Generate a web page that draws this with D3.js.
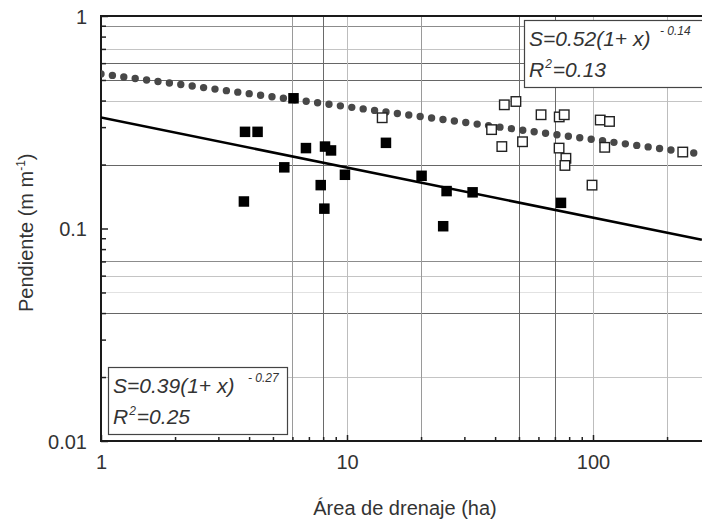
<!DOCTYPE html>
<html>
<head>
<meta charset="utf-8">
<script src="https://cdn.jsdelivr.net/npm/d3@7"></script>
<style>
  body { margin: 0; background: #fff; }
  text { font-family: "Liberation Sans", Arial, Helvetica, sans-serif; fill: #333; }
</style>
</head>
<body>
<div id="chart"></div>
<script>
// filled squares
let filledArea = [3.81, 3.85, 4.33, 5.56, 6.06, 6.81, 7.82, 8.09, 8.14, 8.61, 9.81, 14.4, 20.1, 24.6, 25.4, 32.4, 74.1];
let filledSlope = [0.134, 0.285, 0.285, 0.194, 0.410, 0.239, 0.160, 0.124, 0.243, 0.233, 0.179, 0.253, 0.177, 0.1025, 0.150, 0.148, 0.132];
// open squares
let openArea = [13.9, 38.7, 42.6, 43.6, 48.6, 51.7, 61.5, 72.9, 76.4, 72.8, 77.6, 76.9, 99.1, 107, 116.7, 111.6, 231.7];
let openSlope = [0.332, 0.292, 0.243, 0.382, 0.396, 0.256, 0.343, 0.335, 0.343, 0.239, 0.214, 0.198, 0.160, 0.324, 0.319, 0.241, 0.229];
// fitted lines (read at plot edges)
let solidFitArea = [1, 277];
let solidFitSlope = [0.333, 0.0885];
let dottedFitArea = [1, 277];
let dottedFitSlope = [0.534, 0.224];
// axis ticks
let xTickLabels = [1, 10, 100];
let yTickLabels = [0.01, 0.1, 1];
// reference lines
let hGridDark = [0.6, 0.5, 0.2, 0.04];
let hGridMid = [0.9, 0.07];
let hGridLight = [0.7, 0.4, 0.06, 0.02];
let hGridFaint = [0.05];
let vGridDark = [8, 50, 70];
let vGridMid = [6, 20];
let vGridLight = [10, 100, 200];

let margin = {top: 16, left: 101},
    width = 702,
    height = 520,
    plotBottom = 441;

let x = d3.scaleLog().domain([1, 1000]).range([margin.left, margin.left + 3 * 246]);
let y = d3.scaleLog().domain([0.01, 1]).range([plotBottom, margin.top]);

let svg = d3.select("#chart").append("svg")
    .attr("width", width)
    .attr("height", height);

svg.append("defs").append("clipPath")
    .attr("id", "plot")
    .append("rect")
    .attr("x", margin.left)
    .attr("y", margin.top)
    .attr("width", width - margin.left)
    .attr("height", plotBottom - margin.top);

let grid = svg.append("g");

function hLines(vals, color) {
    grid.selectAll(null)
        .data(vals)
        .enter().append("line")
        .attr("x1", margin.left).attr("x2", width)
        .attr("y1", (d) => Math.round(y(d)) + 0.5)
        .attr("y2", (d) => Math.round(y(d)) + 0.5)
        .attr("stroke", color)
        .attr("stroke-width", 1);
}

function vLines(vals, color) {
    grid.selectAll(null)
        .data(vals)
        .enter().append("line")
        .attr("y1", margin.top).attr("y2", plotBottom)
        .attr("x1", (d) => Math.round(x(d)) + 0.5)
        .attr("x2", (d) => Math.round(x(d)) + 0.5)
        .attr("stroke", color)
        .attr("stroke-width", 1);
}

hLines(hGridFaint, "#e2e2e2");
hLines(hGridLight, "#c4c4c4");
hLines(hGridMid, "#8c8c8c");
hLines(hGridDark, "#666");
vLines(vGridLight, "#bdbdbd");
vLines(vGridMid, "#9a9a9a");
vLines(vGridDark, "#6a6a6a");

// minor ticks
let xMinor = [];
let yMinor = [];
[1, 10, 100].forEach((p) => { for (let k = 2; k <= 9; k++) xMinor.push(p * k); });
[0.01, 0.1].forEach((p) => { for (let k = 2; k <= 9; k++) yMinor.push(+(p * k).toFixed(3)); });

svg.append("g")
    .attr("transform", "translate(" + margin.left + ",0)")
    .call(d3.axisLeft(y).tickValues(yMinor).tickSize(-5).tickFormat(""))
    .call((g) => g.select(".domain").remove())
    .selectAll("line").attr("stroke", "#222").attr("stroke-width", 1.5);

svg.append("g")
    .attr("transform", "translate(0," + plotBottom + ")")
    .call(d3.axisBottom(x).tickValues(xMinor).tickSize(-4).tickFormat(""))
    .call((g) => g.select(".domain").remove())
    .selectAll("line").attr("stroke", "#222").attr("stroke-width", 1.5);

let yAxis = svg.append("g")
    .attr("transform", "translate(" + margin.left + ",0)")
    .call(d3.axisLeft(y).tickValues(yTickLabels).tickSize(-7).tickPadding(14).tickFormat((d) => String(d)));
yAxis.select(".domain").remove();
yAxis.selectAll("line").attr("stroke", "#222").attr("stroke-width", 1.5);
yAxis.selectAll("text").style("font-size", "20px").attr("fill", "#444").attr("dy", "0.36em");

let xAxis = svg.append("g")
    .attr("transform", "translate(0," + plotBottom + ")")
    .call(d3.axisBottom(x).tickValues(xTickLabels).tickSize(-6).tickPadding(14).tickFormat((d) => String(d)));
xAxis.select(".domain").remove();
xAxis.selectAll("line").attr("stroke", "#222").attr("stroke-width", 1.5);
xAxis.selectAll("text").style("font-size", "20px").attr("fill", "#444");

// equation boxes
function eqBox(bx, by, bw, bh, main, sup, supX, r2) {
    let g = svg.append("g");
    g.append("rect")
        .attr("x", bx + 0.5).attr("y", by + 0.5)
        .attr("width", bw).attr("height", bh)
        .attr("fill", "#fff")
        .attr("stroke", "#444")
        .attr("stroke-width", 1.2);
    g.append("text")
        .attr("x", bx + 5).attr("y", by + 26)
        .style("font-size", "21px").style("font-style", "italic")
        .text(main);
    g.append("text")
        .attr("x", supX).attr("y", by + 15)
        .style("font-size", "12px").style("font-style", "italic")
        .text(sup);
    let t = g.append("text")
        .attr("x", bx + 5).attr("y", by + 57)
        .style("font-size", "21px").style("font-style", "italic");
    t.append("tspan").text("R");
    t.append("tspan").attr("dy", -9).attr("dx", 1).style("font-size", "12px").text("2");
    t.append("tspan").attr("dy", 9).attr("dx", 1).text("=" + r2);
}

eqBox(524, 20, 220, 67, "S=0.52(1+ x)", "- 0.14", 660, "0.13");
eqBox(108, 367, 179, 67, "S=0.39(1+ x)", "- 0.27", 248, "0.25");

// frame
let frame = svg.append("g").attr("stroke", "#1a1a1a").attr("stroke-width", 2);
frame.append("line").attr("x1", margin.left).attr("x2", width).attr("y1", margin.top).attr("y2", margin.top);
frame.append("line").attr("x1", margin.left).attr("x2", width).attr("y1", plotBottom).attr("y2", plotBottom);
frame.append("line").attr("x1", margin.left).attr("x2", margin.left).attr("y1", margin.top - 1).attr("y2", plotBottom + 1);

// fitted lines
let line = d3.line().x((d) => x(d[0])).y((d) => y(d[1]));
let plot = svg.append("g").attr("clip-path", "url(#plot)");

plot.append("path")
    .datum(d3.zip(solidFitArea, solidFitSlope))
    .attr("d", line)
    .attr("fill", "none")
    .attr("stroke", "#000")
    .attr("stroke-width", 2.6);

plot.append("path")
    .datum(d3.zip(dottedFitArea, dottedFitSlope))
    .attr("d", line)
    .attr("fill", "none")
    .attr("stroke", "#484848")
    .attr("stroke-width", 7.4)
    .attr("stroke-linecap", "round")
    .attr("stroke-dasharray", "0 11.5");

// points
let sq = 10.5;
plot.selectAll(".filled")
    .data(d3.zip(filledArea, filledSlope))
    .enter().append("rect")
    .attr("class", "filled")
    .attr("x", (d) => x(d[0]) - sq / 2)
    .attr("y", (d) => y(d[1]) - sq / 2)
    .attr("width", sq).attr("height", sq)
    .attr("fill", "#000");

let osq = 9.5;
plot.selectAll(".open")
    .data(d3.zip(openArea, openSlope))
    .enter().append("rect")
    .attr("class", "open")
    .attr("x", (d) => x(d[0]) - osq / 2)
    .attr("y", (d) => y(d[1]) - osq / 2)
    .attr("width", osq).attr("height", osq)
    .attr("fill", "#fff")
    .attr("stroke", "#222")
    .attr("stroke-width", 1.4);

// axis titles
svg.append("text")
    .attr("x", 405).attr("y", 515)
    .attr("text-anchor", "middle")
    .style("font-size", "20px")
    .attr("fill", "#444")
    .text("Área de drenaje (ha)");

let yt = svg.append("text")
    .attr("transform", "translate(33,312) rotate(-90)")
    .style("font-size", "20px")
    .attr("fill", "#444");
yt.append("tspan").text("Pendiente (m m");
yt.append("tspan").attr("dy", -8).style("font-size", "12px").text("-1");
yt.append("tspan").attr("dy", 8).text(")");
</script>
</body>
</html>
